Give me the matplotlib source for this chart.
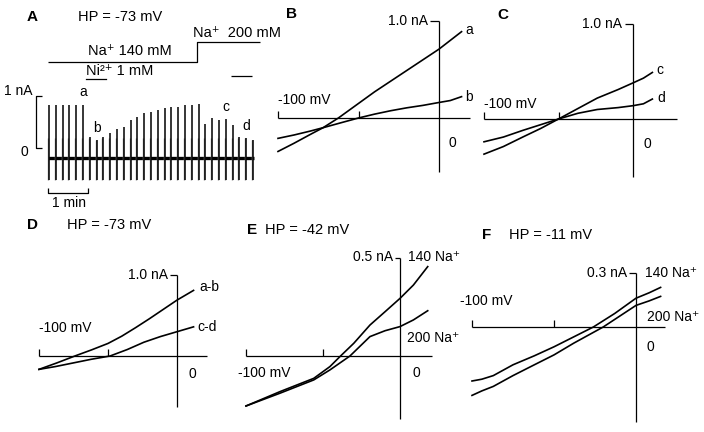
import numpy as np
import matplotlib
matplotlib.use("Agg")
import matplotlib.pyplot as plt
from matplotlib.transforms import blended_transform_factory

W, H = 704, 432
plt.rcParams.update({
    "font.family": ["Liberation Sans", "DejaVu Sans"],
    "font.size": 10,
})

# ---------------- data ----------------
# Panel A: peak current of each voltage ramp (nA)
ramp_peaks_nA = [0.83, 0.83, 0.83, 0.83, 0.83, 0.83, 0.22, 0.15, 0.22, 0.28,
                 0.36, 0.41, 0.54, 0.60, 0.67, 0.70, 0.73, 0.76, 0.79, 0.79,
                 0.83, 0.83, 0.85, 0.47, 0.57, 0.54, 0.55, 0.44, 0.22, 0.19, 0.15]
ramp_trough_nA = -0.62
holding_nA = -0.19
ramp_period_s = 10.2
ramp_labels = {"a": 5, "b": 7, "c": 26, "d": 29}
na_switch_s = 222
ni_on_s, ni_off_s = 273, 305

# Panel B
B_Va = [-100, -90, -80, -72, -62.5, -50, -40, -30, -20, -10, 0, 7, 14]
B_a = [-0.345, -0.26, -0.17, -0.10, 0.0, 0.15, 0.27, 0.38, 0.49, 0.60, 0.71, 0.80, 0.89]
B_Vb = [-100, -90, -80, -72, -60, -50, -40, -30, -20, -10, 0, 7, 14]
B_b = [-0.21, -0.175, -0.135, -0.10, -0.045, 0.0, 0.04, 0.075, 0.105, 0.13, 0.16, 0.18, 0.22]
# Panel C
C_V = [-100, -87, -74, -62, -50, -37, -24, -10, 0, 7, 13]
C_c = [-0.37, -0.29, -0.19, -0.10, 0.0, 0.11, 0.22, 0.31, 0.38, 0.43, 0.49]
C_d = [-0.24, -0.19, -0.12, -0.06, 0.0, 0.06, 0.10, 0.12, 0.14, 0.16, 0.21]
# Panel D
D_Vab = [-100, -87, -74, -62, -50, -40, -30, -20, -10, 0, 6, 12]
D_ab = [-0.165, -0.085, 0.0, 0.075, 0.155, 0.245, 0.35, 0.46, 0.575, 0.69, 0.75, 0.81]
D_Vcd = [-100, -88, -75, -62, -48.5, -36, -24, -12, 0, 6, 12]
D_cd = [-0.165, -0.13, -0.085, -0.04, 0.0, 0.08, 0.17, 0.24, 0.30, 0.33, 0.36]
# Panel E
E_V140 = [-100, -78, -56, -45.5, -39, -30, -19.5, -9.7, 0, 8.7, 18]
E_140 = [-0.255, -0.182, -0.114, -0.054, -0.003, 0.065, 0.158, 0.226, 0.294, 0.362, 0.456]
E_V200 = [-100, -78, -56, -45.5, -32.5, -19.5, -9.7, 0, 8.7, 18]
E_200 = [-0.255, -0.19, -0.122, -0.071, 0.0, 0.099, 0.129, 0.15, 0.184, 0.231]
# Panel F
F_V140 = [-100, -94, -87, -75, -62, -50, -38, -26, -13, 0, 8, 15]
F_140 = [-0.30, -0.29, -0.27, -0.21, -0.16, -0.11, -0.055, 0.0, 0.075, 0.16, 0.19, 0.22]
F_V200 = [-100, -94, -87, -75, -62, -50, -38, -26, -20, -10, 0, 8, 15]
F_200 = [-0.38, -0.355, -0.33, -0.27, -0.21, -0.155, -0.09, -0.03, 0.0, 0.06, 0.12, 0.145, 0.17]

# ---------------- figure ----------------
fig = plt.figure(figsize=(W / 100, H / 100), dpi=100)
LW = 0.9


def T(x, y, s, ha="left", va="center", **kw):
    fig.text(x / W, 1 - y / H, s, ha=ha, va=va, **kw)


def add_axes_px(x0_px, xs, y0_py, ys, xlim, ylim):
    left = x0_px + xlim[0] * xs
    right = x0_px + xlim[1] * xs
    top = y0_py - ylim[1] * ys
    bottom = y0_py - ylim[0] * ys
    ax = fig.add_axes([left / W, 1 - bottom / H, (right - left) / W, (bottom - top) / H])
    ax.set_xlim(xlim)
    ax.set_ylim(ylim)
    ax.axis("off")
    return ax


def iv_panel(v0, mvpx, i0, napx, vmax, ibot, itop, tickw, curves):
    ax = add_axes_px(v0, mvpx, i0, napx, (-115, vmax + 5), (ibot - 0.05, itop + 0.08))
    k = dict(color="black", lw=LW, solid_capstyle="butt", clip_on=False)
    ax.plot([0, 0], [ibot, itop], **k)
    ax.plot([-tickw, 0], [itop, itop], **k)
    ax.plot([-100, vmax], [0, 0], **k)
    th = 7.5 / napx
    ax.plot([-100, -100], [0, th], **k)
    ax.plot([-50, -50], [0, th], **k)
    for V, I in curves:
        ax.plot(V, I, color="black", lw=1.2, clip_on=False)
    return ax


# ---- Panel A ----
spx = 40 / 60.0  # px per second
axA = add_axes_px(49, spx, 148, 52, (-70, 350), (-1.3, 2.8))
n = len(ramp_peaks_nA)
t_r = np.arange(n) * ramp_period_s
pk = np.array(ramp_peaks_nA)
axA.plot([-2, (n - 1) * ramp_period_s + 2], [holding_nA, holding_nA],
         color="black", lw=2.4, solid_capstyle="butt")
axA.vlines(t_r - 1.6, ramp_trough_nA, np.minimum(pk, 0.2), color="#8a8a8a", lw=1.0)
axA.vlines(t_r, ramp_trough_nA, pk, color="black", lw=1.1)
for lab, idx in ramp_labels.items():
    axA.annotate(lab, (idx * ramp_period_s, ramp_peaks_nA[idx]), xytext=(0, 9),
                 textcoords="offset points", ha="center", va="center", fontsize=10)
# scale bars
kA = dict(color="black", lw=LW, solid_capstyle="butt")
axA.plot([-10.5, -19.5, -19.5, -10.5], [1, 1, 0, 0], **kA)
axA.plot([-1.5, -1.5, 58.5, 58.5], [-0.76, -0.865, -0.865, -0.76], **kA)
# solution bars (x in time, y in figure pixels)
trA = blended_transform_factory(axA.transData, fig.transFigure)
yf = lambda py: 1 - py / H
axA.plot([-1.5, na_switch_s, na_switch_s, 316], [yf(62), yf(62), yf(42), yf(42)],
         transform=trA, **kA)
axA.plot([ni_on_s, ni_off_s], [yf(76), yf(76)], transform=trA, **kA)
fig.add_artist(plt.Line2D([86 / W, 106 / W], [yf(78.5), yf(78.5)], color="black", lw=LW))

T(27, 17, "A", fontsize=11, fontweight="bold")
T(78, 17, "HP = -73 mV", fontsize=10.5)
T(193, 33, "Na\u207a  200 mM", fontsize=10.5)
T(130, 51, "Na\u207a 140 mM", ha="center", fontsize=10.5)
T(86, 71, "Ni\u00b2\u207a 1 mM", fontsize=10.5)
T(33, 91, "1 nA", ha="right")
T(24, 152, "0", ha="center")
T(69, 203, "1 min", ha="center")

# ---- Panel B ----
iv_panel(439, 1.61, 118, 97, 19, -0.56, 1.0, 5.6, [(B_Va, B_a), (B_Vb, B_b)])
T(286, 14, "B", fontsize=11, fontweight="bold")
T(428, 21, "1.0 nA", ha="right")
T(278, 100, "-100 mV")
T(452, 143, "0", ha="center")
T(469, 30, "a", ha="center")
T(469, 97, "b", ha="center")

# ---- Panel C ----
iv_panel(633, 1.49, 119, 95, 29.5, -0.61, 1.0, 5.4, [(C_V, C_c), (C_V, C_d)])
T(497, 15, "C", fontsize=11, fontweight="bold")
T(622, 24, "1.0 nA", ha="right")
T(484, 104, "-100 mV")
T(647, 144, "0", ha="center")
T(660, 70, "c", ha="center")
T(661, 98, "d", ha="center")

# ---- Panel D ----
iv_panel(177, 1.38, 356, 81, 21.7, -0.63, 1.0, 5.0, [(D_Vab, D_ab), (D_Vcd, D_cd)])
T(27, 225, "D", fontsize=11, fontweight="bold")
T(67, 225, "HP = -73 mV", fontsize=10.5)
T(168, 275, "1.0 nA", ha="right")
T(39, 328, "-100 mV")
T(192, 374, "0", ha="center")
T(199, 287, "a-b")
T(197, 327, "c-d")

# ---- Panel E ----
iv_panel(400, 1.54, 356, 196, 20.8, -0.32, 0.5, 3.2, [(E_V140, E_140), (E_V200, E_200)])
T(247, 230, "E", fontsize=11, fontweight="bold")
T(265, 230, "HP = -42 mV", fontsize=10.5)
T(393, 257, "0.5 nA", ha="right")
T(408, 257, "140 Na\u207a")
T(407, 338, "200 Na\u207a")
T(238, 373, "-100 mV")
T(416, 373, "0", ha="center")

# ---- Panel F ----
iv_panel(636, 1.64, 327, 180, 17.7, -0.53, 0.3, 4.3, [(F_V140, F_140), (F_V200, F_200)])
T(482, 235, "F", fontsize=11, fontweight="bold")
T(509, 235, "HP = -11 mV", fontsize=10.5)
T(627, 273, "0.3 nA", ha="right")
T(645, 273, "140 Na\u207a")
T(647, 317, "200 Na\u207a")
T(460, 301, "-100 mV")
T(650, 347, "0", ha="center")

fig.savefig("out.png", dpi=100, facecolor="white")
